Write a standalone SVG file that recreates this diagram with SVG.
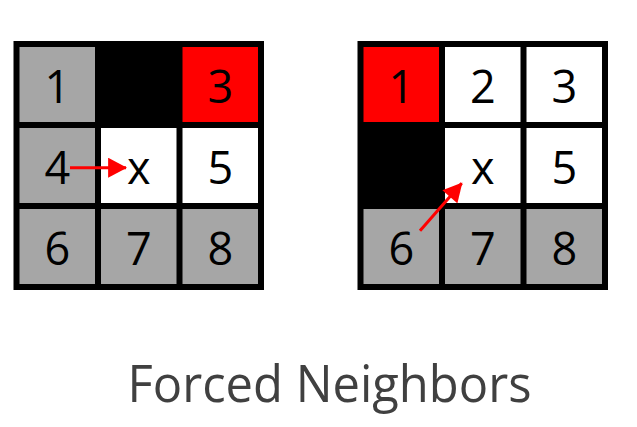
<svg xmlns="http://www.w3.org/2000/svg" width="637" height="427" viewBox="0 0 637 427">
<defs>
<style>
.g{fill:#A6A6A6}.r{fill:#FF0000}.k{fill:#000000}.w{fill:#FFFFFF}
.n{font-family:"Open Sans","Noto Sans",sans-serif;font-size:45px;fill:#000;text-anchor:middle}
.grid{fill:none;stroke:#000;stroke-width:6}
.arr{stroke:#FF0000;stroke-width:3;fill:none}
.title{font-family:"Open Sans","Noto Sans",sans-serif;font-size:52px;fill:#404040;text-anchor:middle}
</style>
<marker id="ah" markerUnits="userSpaceOnUse" markerWidth="20" markerHeight="20" viewBox="0 0 18 19" refX="17" refY="9.5" orient="auto">
<path d="M0,0 L18,9.5 L0,19 Z" fill="#FF0000"/>
</marker>
</defs>
<rect width="637" height="427" fill="#FFFFFF"/>
<g id="left-grid">
<g id="L1"><rect class="g" x="16.5" y="44" width="81.5" height="81"/><text class="n" x="57.25" y="102.5">1</text></g>
<g id="L2"><rect class="k" x="98" y="44" width="81.5" height="81"/></g>
<g id="L3"><rect class="r" x="179.5" y="44" width="81.5" height="81"/><text class="n" x="220.25" y="102.5">3</text></g>
<g id="L4"><rect class="g" x="16.5" y="125" width="81.5" height="81"/><text class="n" x="57.25" y="183.5">4</text></g>
<g id="Lx"><rect class="w" x="98" y="125" width="81.5" height="81"/><text class="n" x="138.75" y="183.5">x</text></g>
<g id="L5"><rect class="w" x="179.5" y="125" width="81.5" height="81"/><text class="n" x="220.25" y="183.5">5</text></g>
<g id="L6"><rect class="g" x="16.5" y="206" width="81.5" height="81"/><text class="n" x="57.25" y="264.5">6</text></g>
<g id="L7"><rect class="g" x="98" y="206" width="81.5" height="81"/><text class="n" x="138.75" y="264.5">7</text></g>
<g id="L8"><rect class="g" x="179.5" y="206" width="81.5" height="81"/><text class="n" x="220.25" y="264.5">8</text></g>
<path class="grid" d="M16.5,44H261V287H16.5Z M98,44V287 M179.5,44V287 M16.5,125H261 M16.5,206H261"/>
</g>
<g id="right-grid">
<g id="R1"><rect class="r" x="360.5" y="44" width="81.5" height="81"/><text class="n" x="401.25" y="102.5">1</text></g>
<g id="R2"><rect class="w" x="442" y="44" width="81.5" height="81"/><text class="n" x="482.75" y="102.5">2</text></g>
<g id="R3"><rect class="w" x="523.5" y="44" width="81.5" height="81"/><text class="n" x="564.25" y="102.5">3</text></g>
<g id="R4"><rect class="k" x="360.5" y="125" width="81.5" height="81"/></g>
<g id="Rx"><rect class="w" x="442" y="125" width="81.5" height="81"/><text class="n" x="482.75" y="183.5">x</text></g>
<g id="R5"><rect class="w" x="523.5" y="125" width="81.5" height="81"/><text class="n" x="564.25" y="183.5">5</text></g>
<g id="R6"><rect class="g" x="360.5" y="206" width="81.5" height="81"/><text class="n" x="401.25" y="264.5">6</text></g>
<g id="R7"><rect class="g" x="442" y="206" width="81.5" height="81"/><text class="n" x="482.75" y="264.5">7</text></g>
<g id="R8"><rect class="g" x="523.5" y="206" width="81.5" height="81"/><text class="n" x="564.25" y="264.5">8</text></g>
<path class="grid" d="M360.5,44H605V287H360.5Z M442,44V287 M523.5,44V287 M360.5,125H605 M360.5,206H605"/>
</g>
<g id="connectors">
<line class="arr" x1="70" y1="167.7" x2="126" y2="167.7" marker-end="url(#ah)"/>
<line class="arr" x1="420" y1="230.7" x2="461.7" y2="183.3" marker-end="url(#ah)"/>
</g>
<text class="title" x="329.5" y="401.7" textLength="404" lengthAdjust="spacingAndGlyphs">Forced Neighbors</text>
</svg>
